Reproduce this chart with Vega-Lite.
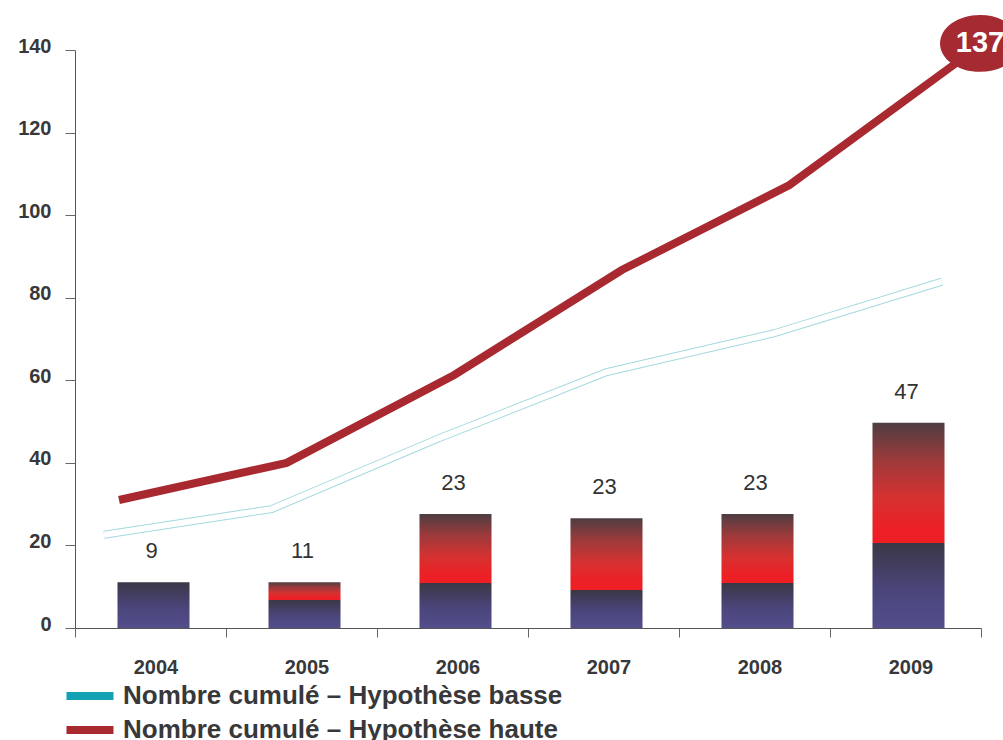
{
  "$schema": "https://vega.github.io/schema/vega-lite/v6.json",
  "autosize": {"type": "none"},
  "padding": {"left": 75, "top": 50, "right": 22, "bottom": 112},
  "width": 906,
  "height": 578,
  "background": "white",
  "config": {
    "view": {"stroke": null},
    "font": "Liberation Sans",
    "axis": {"grid": false, "domainColor": "#555555", "tickColor": "#666666", "labelColor": "#38383a", "labelFont": "Liberation Sans", "labelFontWeight": "bold", "titleFontSize": 0}
  },
  "datasets": {
    "bars": [
      {"year": "2004", "blue": 11.1, "total": 11.1, "label": 9},
      {"year": "2005", "blue": 6.8, "total": 11.1, "label": 11},
      {"year": "2006", "blue": 10.9, "total": 27.6, "label": 23},
      {"year": "2007", "blue": 9.2, "total": 26.6, "label": 23},
      {"year": "2008", "blue": 10.9, "total": 27.6, "label": 23},
      {"year": "2009", "blue": 20.6, "total": 49.7, "label": 47}
    ],
    "basse": [
      {"year": 2004, "series": "Nombre cumulé – Hypothèse basse", "value": 22.6},
      {"year": 2005, "series": "Nombre cumulé – Hypothèse basse", "value": 28.8},
      {"year": 2006, "series": "Nombre cumulé – Hypothèse basse", "value": 46.0},
      {"year": 2007, "series": "Nombre cumulé – Hypothèse basse", "value": 62.0},
      {"year": 2008, "series": "Nombre cumulé – Hypothèse basse", "value": 71.4},
      {"year": 2009, "series": "Nombre cumulé – Hypothèse basse", "value": 83.9}
    ],
    "haute": [
      {"year": 2004, "series": "Nombre cumulé – Hypothèse haute", "value": 31.0},
      {"year": 2005, "series": "Nombre cumulé – Hypothèse haute", "value": 40.0},
      {"year": 2006, "series": "Nombre cumulé – Hypothèse haute", "value": 61.3},
      {"year": 2007, "series": "Nombre cumulé – Hypothèse haute", "value": 86.7},
      {"year": 2008, "series": "Nombre cumulé – Hypothèse haute", "value": 107.3},
      {"year": 2009, "series": "Nombre cumulé – Hypothèse haute", "value": 137}
    ]
  },
  "resolve": {"scale": {"x": "independent"}},
  "layer": [
    {
      "data": {"name": "bars"},
      "encoding": {
        "x": {
          "field": "year", "type": "ordinal",
          "scale": {"paddingInner": 0, "paddingOuter": 0},
          "axis": {"title": null, "tickBand": "extent", "tickSize": 9, "labelPadding": 20, "labelFontSize": 20, "labelOffset": 5, "labelAngle": 0}
        }
      },
      "layer": [
        {
          "mark": {"type": "bar", "width": {"band": 0.477}, "xOffset": 3, "fill": {"gradient": "linear", "x1": 0, "y1": 0, "x2": 0, "y2": 1, "stops": [{"offset": 0, "color": "#3b3746"}, {"offset": 0.55, "color": "#4a457a"}, {"offset": 1, "color": "#534e8c"}]}},
          "encoding": {
            "y": {"field": "blue", "type": "quantitative", "scale": {"domain": [0, 140], "nice": false}, "axis": {"title": null, "values": [0, 20, 40, 60, 80, 100, 120, 140], "tickSize": 10, "labelPadding": 14, "labelFontSize": 20, "labelOffset": -4}}
          }
        },
        {
          "mark": {"type": "bar", "width": {"band": 0.477}, "xOffset": 3, "fill": {"gradient": "linear", "x1": 0, "y1": 0, "x2": 0, "y2": 1, "stops": [{"offset": 0, "color": "#4d3e42"}, {"offset": 0.3, "color": "#9b3a3b"}, {"offset": 0.62, "color": "#d63131"}, {"offset": 0.88, "color": "#ec2026"}, {"offset": 1, "color": "#ee1f25"}]}},
          "encoding": {
            "y": {"field": "total", "type": "quantitative"},
            "y2": {"field": "blue"}
          }
        },
        {
          "mark": {"type": "text", "fontSize": 22, "color": "#333333", "baseline": "middle", "dy": -31, "dx": 1, "font": "Liberation Sans"},
          "encoding": {
            "y": {"field": "total", "type": "quantitative"},
            "text": {"field": "label", "type": "quantitative"}
          }
        }
      ]
    },
    {
      "encoding": {
        "x": {"field": "year", "type": "quantitative", "scale": {"domain": [2003.7375, 2009.143], "nice": false, "zero": false}, "axis": null},
        "y": {"field": "value", "type": "quantitative"}
      },
      "layer": [
        {
          "data": {"name": "basse"},
          "mark": {"type": "line", "stroke": "#a3d9de", "strokeWidth": 8, "xOffset": -15}
        },
        {
          "data": {"name": "basse"},
          "mark": {"type": "line", "stroke": "white", "strokeWidth": 6, "xOffset": -15}
        },
        {
          "data": {"name": "haute"},
          "mark": {"type": "line", "strokeWidth": 8},
          "encoding": {
            "color": {
              "field": "series", "type": "nominal",
              "scale": {"domain": ["Nombre cumulé – Hypothèse basse", "Nombre cumulé – Hypothèse haute"], "range": ["#13a2b3", "#a8292f"]},
              "legend": {"title": null, "orient": "none", "legendX": -1, "legendY": 630, "direction": "vertical", "padding": 0, "symbolType": "M -2 0 L 2 0", "symbolSize": 552, "symbolStrokeWidth": 8, "labelFontSize": 26, "labelFontWeight": "bold", "labelColor": "#38383a", "labelFont": "Liberation Sans", "labelOffset": 17, "rowPadding": 2, "labelLimit": 800}
            }
          }
        },
        {
          "data": {"name": "haute"},
          "transform": [{"filter": "datum.year == 2009"}],
          "mark": {"type": "point", "filled": true, "opacity": 1, "shape": "M -1 0 A 1 0.71 0 1 1 1 0 A 1 0.71 0 1 1 -1 0 Z", "size": 6400, "fill": "#a52a31", "strokeWidth": 0, "xOffset": 23, "yOffset": -19}
        },
        {
          "data": {"name": "haute"},
          "transform": [{"filter": "datum.year == 2009"}],
          "mark": {"type": "text", "color": "white", "fontSize": 29, "fontWeight": "bold", "font": "Liberation Sans", "baseline": "middle", "align": "center", "dx": 23, "dy": -19},
          "encoding": {"text": {"field": "value", "type": "quantitative"}}
        }
      ]
    }
  ]
}
